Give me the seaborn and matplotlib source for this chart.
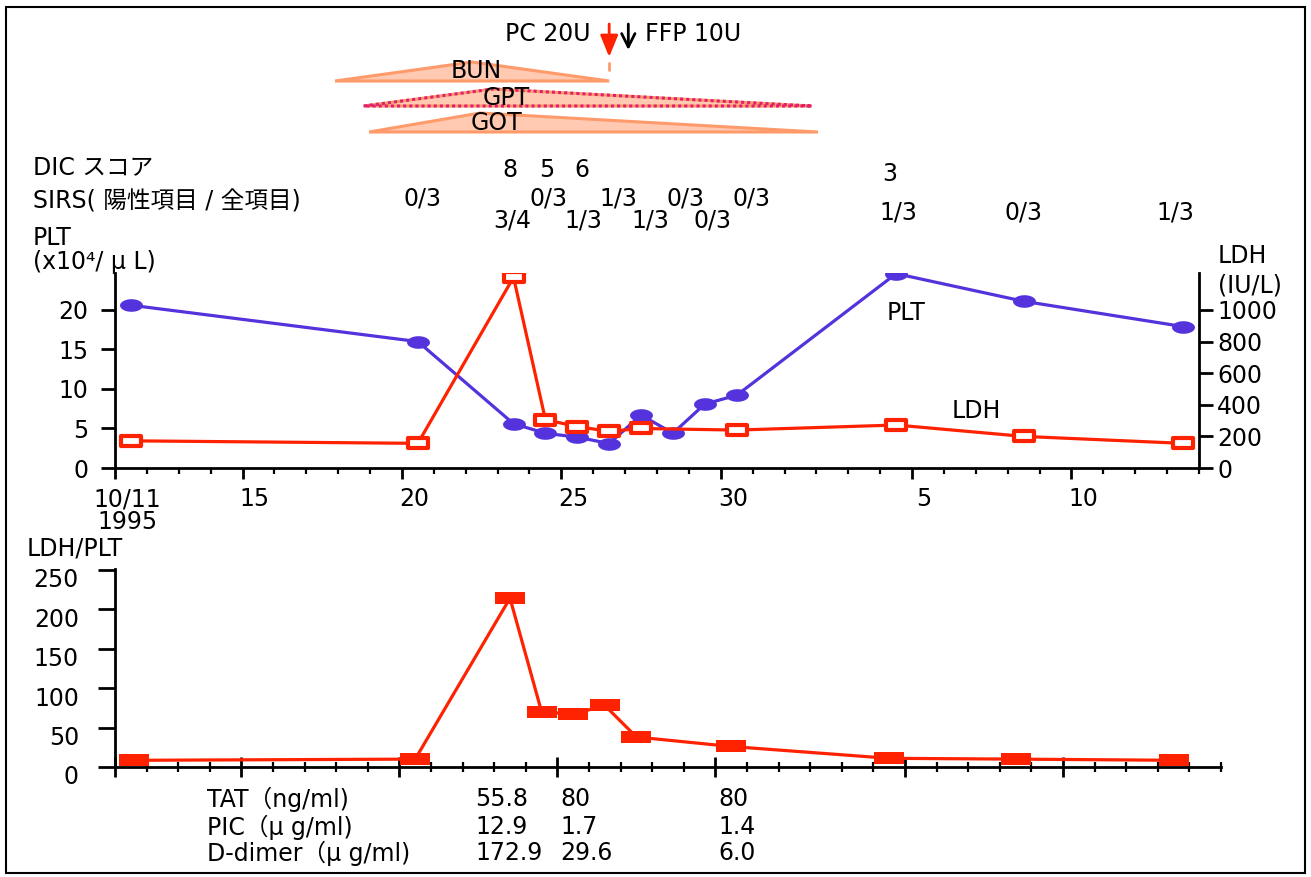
import numpy as np
import pandas as pd
import matplotlib
matplotlib.use("Agg")
import matplotlib.pyplot as plt
import seaborn as sns
from matplotlib.path import Path
from matplotlib.patches import Polygon, Rectangle
from matplotlib.lines import Line2D
from matplotlib import transforms as mtrans
from matplotlib.ticker import FixedLocator, MultipleLocator

# ---------------- data (x = days since 1995-10-11) ----------------
plt_days = [0.5, 9.5, 12.5, 13.5, 14.5, 15.5, 16.5, 17.5, 18.5, 19.5, 24.5, 28.5, 33.5]
plt_vals = [20.6, 16.0, 5.6, 4.4, 3.9, 3.1, 6.7, 4.4, 8.1, 9.2, 24.6, 21.1, 17.9]

ldh_days = [0.5, 9.5, 12.5, 13.5, 14.5, 15.5, 16.5, 19.5, 24.5, 28.5, 33.5]
ldh_vals = [172, 156, 1207, 306, 262, 232, 250, 240, 272, 200, 156]

ratio_days = [0.6, 9.5, 12.5, 13.5, 14.5, 15.5, 16.5, 19.5, 24.5, 28.5, 33.5]
ratio_vals = [8.5, 10, 214, 70, 67, 78, 38, 26, 11, 10, 8.5]

date_tick_days = [0, 4, 9, 14, 19, 25, 30]
date_tick_labels = ["10/11\n1995", "15", "20", "25", "30", "5", "10"]
plt_ticks = [0, 5, 10, 15, 20]
ldh_ticks = [0, 200, 400, 600, 800, 1000]
ratio_ticks = [0, 50, 100, 150, 200, 250]

dic_days = [12.4, 13.55, 14.65, 24.3]
dic_scores = ["8", "5", "6", "3"]
sirs1_days = [9.66, 13.6, 15.8, 17.9, 19.95]
sirs1_vals = ["0/3", "0/3", "1/3", "0/3", "0/3"]
sirs2_days = [12.45, 14.7, 16.8, 18.75]
sirs2_vals = ["3/4", "1/3", "1/3", "0/3"]
sirs3_days = [24.56, 28.5, 33.25]
sirs3_vals = ["1/3", "0/3", "1/3"]

enzymes = ["BUN", "GPT", "GOT"]
enz_start = [6.9, 7.8, 7.97]
enz_peak = [11.2, 11.86, 11.45]
enz_end = [15.5, 21.86, 22.05]
enz_label_days = [11.32, 12.26, 11.98]

pc_day = 15.5
ffp_day = 16.1

lab_names = ["TAT\uff08ng/ml)", "PIC\uff08\u03bc g/ml)", "D-dimer\uff08\u03bc g/ml)"]
lab_col_days = [11.4, 14.1, 19.1]
tat_vals = ["55.8", "80", "80"]
pic_vals = ["12.9", "1.7", "1.4"]
dd_vals = ["172.9", "29.6", "6.0"]

# ---------------- style ----------------
sns.set_theme(style="ticks")
plt.rcParams['font.family'] = ['DejaVu Sans', 'Noto Sans CJK JP']
plt.rcParams['axes.linewidth'] = 2.0
plt.rcParams['text.color'] = 'black'
plt.rcParams['axes.labelcolor'] = 'black'
plt.rcParams['xtick.color'] = 'black'
plt.rcParams['ytick.color'] = 'black'
plt.rcParams['xtick.labelcolor'] = 'black'
plt.rcParams['ytick.labelcolor'] = 'black'
FS = 17
BLUE = "#5433dd"
RED = "#ff2200"
SALMON = "#ffc9b2"
ORANGE = "#ff9a6a"

W, H = 1311, 877
fig = plt.figure(figsize=(W / 100, H / 100), dpi=100)
fig.patch.set_facecolor("white")

def fy(y):
    return 1 - y / H

def fx(x):
    return x / W

# axes placement
ax1 = fig.add_axes([fx(115), fy(468), (1199 - 115) / W, (468 - 273) / H])
ax2 = ax1.twinx()
ax3 = fig.add_axes([fx(115), fy(767), (1221 - 115) / W, (767 - 569) / H])
for a in (ax1, ax2, ax3):
    a.set_facecolor("none")

# markers
t = np.linspace(0, 2 * np.pi, 61)
ellipse = Path(np.column_stack([np.cos(t), 0.55 * np.sin(t)]))
rect_open = Path([(-1, -0.5), (1, -0.5), (1, 0.5), (-1, 0.5), (-1, -0.5)], closed=True)
rect_flat = Path([(-1, -0.42), (1, -0.42), (1, 0.42), (-1, 0.42), (-1, -0.42)], closed=True)

# PLT
sns.lineplot(x=plt_days, y=plt_vals, ax=ax1, color=BLUE, lw=2.3, marker=ellipse,
             markersize=16.5, markeredgewidth=0, markerfacecolor=BLUE,
             estimator=None, sort=False)
# LDH
sns.lineplot(x=ldh_days, y=ldh_vals, ax=ax2, color=RED, lw=2.3, marker=rect_open,
             markersize=14.5, markeredgewidth=3.0, markeredgecolor=RED,
             markerfacecolor="white", estimator=None, sort=False)
# LDH/PLT
sns.lineplot(x=ratio_days, y=ratio_vals, ax=ax3, color=RED, lw=2.3, marker=rect_flat,
             markersize=21, markeredgewidth=0, markerfacecolor=RED,
             estimator=None, sort=False)

# limits
ax1.set_xlim(0, 34)
ax1.set_ylim(0, 24.68)
ax2.set_ylim(0, 24.68 * 50)
ax3.set_xlim(0, 35)
ax3.set_ylim(0, 251)

for a in (ax1, ax2, ax3):
    a.set_xlabel("")
    a.set_ylabel("")
    a.grid(False)

# spines
ax1.spines["top"].set_visible(False)
ax1.spines["right"].set_visible(False)
for s in ("top", "left", "bottom"):
    ax2.spines[s].set_visible(False)
ax3.spines["top"].set_visible(False)
ax3.spines["right"].set_visible(False)
for a in (ax1, ax2, ax3):
    for s in a.spines.values():
        s.set_linewidth(2.0)
        s.set_color("black")

# ticks top
ax1.xaxis.set_major_locator(FixedLocator(date_tick_days))
ax1.set_xticklabels(date_tick_labels)
ax1.xaxis.set_minor_locator(MultipleLocator(1))
ax1.tick_params(axis="x", which="major", direction="out", length=8, width=2,
                labelsize=FS, pad=6, colors="black")
ax1.tick_params(axis="x", which="minor", direction="out", length=4, width=1.6)
ax1.set_yticks(plt_ticks)
ax1.tick_params(axis="y", direction="out", length=10, width=2, labelsize=FS, pad=9)
ax2.set_yticks(ldh_ticks)
ax2.tick_params(axis="y", direction="out", length=10, width=2, labelsize=FS, pad=3)
ax2.xaxis.set_visible(False)

off_x = mtrans.ScaledTranslation(12 / 100, 0, fig.dpi_scale_trans)
for lab in ax1.get_xticklabels():
    lab.set_transform(lab.get_transform() + off_x)
    lab.set_linespacing(0.95)

# ticks bottom
ax3.xaxis.set_major_locator(FixedLocator(date_tick_days))
ax3.xaxis.set_minor_locator(MultipleLocator(1))
ax3.set_xticklabels([])
ax3.tick_params(axis="x", which="major", direction="inout", length=14, width=2)
ax3.tick_params(axis="x", which="minor", direction="inout", length=7, width=1.6)
ax3.set_yticks(ratio_ticks)
ax3.tick_params(axis="y", direction="out", length=12, width=2, labelsize=FS, pad=14)
off_y = mtrans.ScaledTranslation(0, -8 / 100, fig.dpi_scale_trans)
for lab in ax3.get_yticklabels():
    lab.set_transform(lab.get_transform() + off_y)

# series labels inside top axes
ax1.text(24.8, 19.6, "PLT", fontsize=FS, ha="center", va="center")
ax1.text(27.0, 7.2, "LDH", fontsize=FS, ha="center", va="center")

# axis titles
fig.text(fx(33), fy(238), "PLT", fontsize=FS, ha="left", va="center")
fig.text(fx(33), fy(262), "(x10\u2074/ \u03bc L)", fontsize=FS, ha="left", va="center")
fig.text(fx(1218), fy(256), "LDH", fontsize=FS, ha="left", va="center")
fig.text(fx(1218), fy(285), "(IU/L)", fontsize=FS, ha="left", va="center")
fig.text(fx(27), fy(549), "LDH/PLT", fontsize=FS, ha="left", va="center")

# DIC / SIRS rows
blend1 = mtrans.blended_transform_factory(ax1.transData, fig.transFigure)
fig.text(fx(33), fy(167), "DIC スコア", fontsize=FS, ha="left", va="center")
fig.text(fx(33), fy(202), "SIRS( 陽性項目 / 全項目)", fontsize=FS, ha="left", va="center")
for d, s in zip(dic_days, dic_scores):
    yy = 174 if d > 20 else 170
    fig.text(d, fy(yy), s, fontsize=FS, ha="center", va="center", transform=blend1)
for d, s in zip(sirs1_days, sirs1_vals):
    fig.text(d, fy(199), s, fontsize=FS, ha="center", va="center", transform=blend1)
for d, s in zip(sirs2_days, sirs2_vals):
    fig.text(d, fy(221), s, fontsize=FS, ha="center", va="center", transform=blend1)
for d, s in zip(sirs3_days, sirs3_vals):
    fig.text(d, fy(213), s, fontsize=FS, ha="center", va="center", transform=blend1)

# enzyme triangles
enz_base = [81, 106, 132]
enz_apex = [62, 89, 113]
enz_label_y = [71, 98, 123]
for i, name in enumerate(enzymes):
    verts = [(enz_start[i], fy(enz_base[i])), (enz_peak[i], fy(enz_apex[i])),
             (enz_end[i], fy(enz_base[i]))]
    poly = Polygon(verts, closed=True, transform=blend1, facecolor=SALMON,
                   edgecolor=ORANGE, lw=2.2, clip_on=False)
    fig.add_artist(poly)
    if name == "GPT":
        poly2 = Polygon(verts, closed=True, transform=blend1, facecolor="none",
                        edgecolor="#e0206e", lw=2.2, linestyle=(0, (1, 1)), clip_on=False)
        fig.add_artist(poly2)
    fig.text(enz_label_days[i], fy(enz_label_y[i]), name, fontsize=FS, ha="center",
             va="center", transform=blend1)

# transfusion arrows
fig.text(fx(505), fy(34), "PC 20U", fontsize=FS, ha="left", va="center")
fig.text(fx(645), fy(34), "FFP 10U", fontsize=FS, ha="left", va="center")
ax1.annotate("", xy=(pc_day, fy(57)), xycoords=blend1,
             xytext=(pc_day, fy(24)), textcoords=blend1,
             arrowprops=dict(arrowstyle="-|>,head_length=1.1,head_width=0.45",
                             color=RED, lw=2, mutation_scale=12, shrinkA=0, shrinkB=0),
             annotation_clip=False)
ax1.annotate("", xy=(ffp_day, fy(50)), xycoords=blend1,
             xytext=(ffp_day, fy(24)), textcoords=blend1,
             arrowprops=dict(arrowstyle="->,head_length=0.8,head_width=0.4",
                             color="black", lw=2, mutation_scale=12, shrinkA=0, shrinkB=0),
             annotation_clip=False)
fig.add_artist(Line2D([pc_day, pc_day], [fy(63), fy(70)], transform=blend1,
                      color=ORANGE, lw=2))

# lab table
blend3 = mtrans.blended_transform_factory(ax3.transData, fig.transFigure)
row_y = [799, 827, 853]
rows = [tat_vals, pic_vals, dd_vals]
for name, yy, vals in zip(lab_names, row_y, rows):
    fig.text(fx(207), fy(yy), name, fontsize=FS, ha="left", va="center")
    for d, v in zip(lab_col_days, vals):
        fig.text(d, fy(yy), v, fontsize=FS, ha="left", va="center", transform=blend3)

# outer frame
fig.add_artist(Rectangle((fx(6), fy(873)), (1305 - 6) / W, (873 - 7) / H,
                         transform=fig.transFigure, fill=False, ec="black", lw=1.5))

fig.savefig("out.png", dpi=100, facecolor="white")
